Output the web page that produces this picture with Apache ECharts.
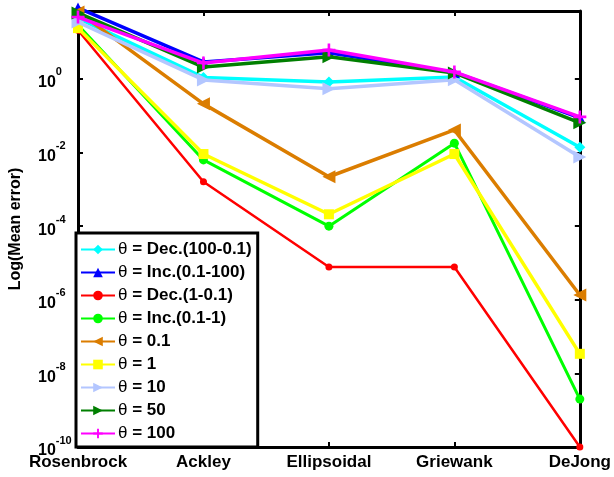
<!DOCTYPE html>
<html>
<head>
<meta charset="utf-8">
<script src="https://cdn.jsdelivr.net/npm/echarts@6/dist/echarts.min.js"></script>
<style>
  html, body { margin: 0; padding: 0; background: #fff; }
  #chart { width: 614px; height: 477px; }
</style>
</head>
<body>
<div id="chart"></div>
<script>
// Benchmark functions on the x axis
const categories = ['Rosenbrock', 'Ackley', 'Ellipsoidal', 'Griewank', 'DeJong'];

// Mean error per theta schedule (log scale)
const decHigh  = [45, 1.1, 0.83, 1.13, 0.014];        // θ = Dec.(100-0.1)
const incHigh  = [85, 2.9, 5.1, 1.5, 0.088];          // θ = Inc.(0.1-100)
const decLow   = [21, 0.0016, 7.8e-6, 7.8e-6, 1e-10]; // θ = Dec.(1-0.1)
const incLow   = [29, 0.0063, 1.0e-4, 0.018, 2.0e-9]; // θ = Inc.(0.1-1)
const theta01  = [66, 0.21, 0.0022, 0.041, 1.35e-6];  // θ = 0.1
const theta1   = [24, 0.0091, 2.1e-4, 0.0091, 3.4e-8];// θ = 1
const theta10  = [35, 0.94, 0.54, 0.95, 0.0076];      // θ = 10
const theta50  = [62, 2.1, 4.0, 1.45, 0.064];         // θ = 50
const theta100 = [48, 2.7, 6.1, 1.55, 0.093];         // θ = 100

const seriesNames = [
  'θ = Dec.(100-0.1)', 'θ = Inc.(0.1-100)', 'θ = Dec.(1-0.1)', 'θ = Inc.(0.1-1)',
  'θ = 0.1', 'θ = 1', 'θ = 10', 'θ = 50', 'θ = 100'
];
const seriesData = [decHigh, incHigh, decLow, incLow, theta01, theta1, theta10, theta50, theta100];

// Styling for each series: colour, marker, marker size, rotation, line width
const plusPath = 'path://M4,0H6V4H10V6H6V10H4V6H0V4H4Z';
const styles = [
  { color: '#00FFFF', symbol: 'diamond',  size: 11, rot: 0,   lw: 3.5 },
  { color: '#0000FF', symbol: 'triangle', size: 11, rot: 0,   lw: 3.5 },
  { color: '#FF0000', symbol: 'circle',   size: 7,  rot: 0,   lw: 2.5 },
  { color: '#00FF00', symbol: 'circle',   size: 9,  rot: 0,   lw: 3 },
  { color: '#DB7D00', symbol: 'triangle', size: 13, rot: 90,  lw: 3.5 },
  { color: '#FFFF00', symbol: 'rect',     size: 10, rot: 0,   lw: 3.5 },
  { color: '#B3C6FF', symbol: 'triangle', size: 13, rot: -90, lw: 3.5 },
  { color: '#007F00', symbol: 'triangle', size: 13, rot: -90, lw: 3.5 },
  { color: '#FF00FF', symbol: plusPath,   size: 13, rot: 0,   lw: 3.5 }
];

const series = seriesNames.map((name, i) => ({
  name: name,
  type: 'line',
  data: seriesData[i],
  xAxisIndex: 0,
  yAxisIndex: 0,
  clip: false,
  symbol: styles[i].symbol,
  symbolSize: styles[i].size,
  symbolRotate: styles[i].rot,
  showAllSymbol: true,
  itemStyle: { color: styles[i].color },
  lineStyle: { color: styles[i].color, width: styles[i].lw },
  emphasis: { disabled: true },
  animation: false,
  z: 2 + i
}));

const FONT = 'Liberation Sans, Arial, sans-serif';
const axisLineStyle = { color: '#000', width: 3 };

function powLabel(v) {
  const e = Math.log10(v);
  const r = Math.round(e);
  if (Math.abs(e - r) > 1e-6 || r % 2 !== 0) return '';
  return '{b|10}{e|' + r + '}';
}

// Legend entries: a plain theta followed by the bold description
function legendLabel(name) {
  return '{t|θ}{b|' + name.slice(1) + '}';
}

const chart = echarts.init(document.getElementById('chart'), null, { renderer: 'canvas' });
chart.setOption({
  animation: false,
  backgroundColor: '#fff',
  grid: { left: 76, right: 32, top: 11, bottom: 30, containLabel: false },
  legend: {
    orient: 'vertical',
    left: 76,
    bottom: 30,
    itemWidth: 34,
    itemHeight: 12,
    itemGap: 6,
    padding: [8, 6, 5, 4],
    borderColor: '#000',
    borderWidth: 3,
    borderRadius: 0,
    backgroundColor: '#fff',
    z: 20,
    formatter: legendLabel,
    textStyle: {
      fontFamily: FONT, fontSize: 17, fontWeight: 'bold', color: '#000', padding: [0, 0, 0, -2],
      rich: {
        t: { fontFamily: FONT, fontSize: 17, fontWeight: 'normal', color: '#000' },
        b: { fontFamily: FONT, fontSize: 17, fontWeight: 'bold', color: '#000' }
      }
    },
    data: seriesNames
  },
  xAxis: [
    {
      type: 'category',
      position: 'bottom',
      data: categories,
      boundaryGap: false,
      axisLine: { lineStyle: axisLineStyle },
      axisTick: { show: true, inside: true, length: 5, lineStyle: { color: '#000', width: 2 } },
      axisLabel: { fontFamily: FONT, fontSize: 17, fontWeight: 'bold', color: '#000', margin: 7, interval: 0 },
      splitLine: { show: false }
    },
    {
      type: 'category',
      position: 'top',
      data: categories,
      boundaryGap: false,
      axisLine: { lineStyle: axisLineStyle },
      axisTick: { show: true, inside: true, length: 5, lineStyle: { color: '#000', width: 2 } },
      axisLabel: { show: false },
      splitLine: { show: false }
    }
  ],
  yAxis: [
    {
      type: 'log',
      position: 'left',
      logBase: 10,
      min: 1e-10,
      max: 70,
      interval: 2,
      name: 'Log(Mean error)',
      nameLocation: 'middle',
      nameGap: 54,
      nameTextStyle: { fontFamily: FONT, fontSize: 16, fontWeight: 'bold', color: '#000' },
      axisLine: { show: true, lineStyle: axisLineStyle },
      axisTick: { show: true, inside: true, length: 5, lineStyle: { color: '#000', width: 2 } },
      axisLabel: {
        align: 'left',
        margin: 40,
        formatter: powLabel,
        rich: {
          b: { fontFamily: FONT, fontSize: 16, fontWeight: 'bold', color: '#000', verticalAlign: 'bottom', lineHeight: 24 },
          e: { fontFamily: FONT, fontSize: 11, fontWeight: 'bold', color: '#000', verticalAlign: 'top', lineHeight: 24 }
        }
      },
      splitLine: { show: false }
    },
    {
      type: 'log',
      position: 'right',
      logBase: 10,
      min: 1e-10,
      max: 70,
      interval: 2,
      axisLine: { show: true, lineStyle: axisLineStyle },
      axisTick: { show: true, inside: true, length: 5, lineStyle: { color: '#000', width: 2 } },
      axisLabel: { show: false },
      splitLine: { show: false }
    }
  ],
  series: series
});
</script>
</body>
</html>
